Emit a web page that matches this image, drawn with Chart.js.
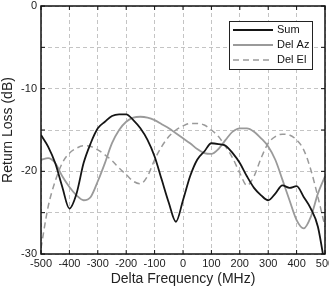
<!DOCTYPE html>
<html>
<head>
<meta charset="UTF-8">
<title>Return Loss</title>
<script src="https://cdn.jsdelivr.net/npm/chart.js"></script>
<style>
  html, body { margin: 0; padding: 0; background: #fff; overflow: hidden; }
  #wrap { width: 329px; height: 288px; }
</style>
</head>
<body>
<div id="wrap"><canvas id="rl" width="329" height="288"></canvas></div>
<script>
const freq = [-500, -475, -450, -425, -400, -375, -350, -325, -300, -275, -250, -225, -200, -175, -150, -125, -100, -75, -50, -25,
  0, 25, 50, 75, 100, 125, 150, 175, 200, 225, 250, 275, 300, 325, 350, 375, 400, 425, 450, 475, 500];

const sumRL = [-15.6, -17.0, -19.0, -21.9, -24.5, -22.7, -19.0, -16.6, -14.8, -14.0, -13.3, -13.1, -13.1, -13.8, -14.8, -16.2, -18.2, -21.0, -23.8, -26.1,
  -23.5, -20.6, -18.6, -17.6, -16.6, -16.7, -16.9, -17.8, -19.0, -20.6, -22.0, -22.9, -23.5, -22.7, -21.7, -22.0, -21.8, -23.1, -24.5, -26.7, -31.5];

const delAz = [-18.6, -18.4, -19.0, -20.6, -21.9, -22.9, -23.5, -23.1, -21.2, -19.0, -16.6, -15.0, -14.0, -13.5, -13.4, -13.5, -13.8, -14.3, -14.8, -15.4,
  -16.0, -16.6, -17.3, -17.8, -17.9, -17.3, -16.2, -15.2, -14.8, -14.8, -15.2, -16.0, -17.0, -18.6, -21.0, -23.5, -25.9, -26.9, -25.5, -22.7, -20.6];

const delEl = [-29.3, -24.3, -21.2, -19.0, -17.8, -17.2, -16.9, -17.0, -17.4, -18.0, -18.7, -19.6, -20.4, -21.2, -21.5, -20.6, -18.6, -17.0, -15.8, -15.0,
  -14.5, -14.2, -14.2, -14.4, -15.0, -15.8, -17.0, -18.4, -20.2, -21.7, -20.6, -18.4, -16.6, -15.8, -15.5, -15.6, -16.2, -17.4, -19.8, -23.1, -26.7];

const xTicks = [-500, -400, -300, -200, -100, 0, 100, 200, 300, 400, 500];
const yLabelTicks = [0, -10, -20, -30];

function pts(ys) {
  return freq.map((f, i) => ({ x: f, y: ys[i] }));
}

// box around plot, inward tick marks, legend inside the plot
const frame = {
  id: 'frame',
  afterDatasetsDraw(chart) {
    const { ctx, chartArea: a, scales } = chart;
    ctx.save();
    ctx.strokeStyle = '#111';
    ctx.lineWidth = 1.5;
    ctx.strokeRect(a.left, a.top, a.right - a.left, a.bottom - a.top);
    ctx.lineWidth = 1;
    ctx.beginPath();
    xTicks.forEach(v => {
      const px = scales.x.getPixelForValue(v);
      ctx.moveTo(px, a.bottom); ctx.lineTo(px, a.bottom - 4);
      ctx.moveTo(px, a.top); ctx.lineTo(px, a.top + 4);
    });
    [0, -5, -10, -15, -20, -25, -30].forEach(v => {
      const py = scales.y.getPixelForValue(v);
      ctx.moveTo(a.left, py); ctx.lineTo(a.left + 4, py);
      ctx.moveTo(a.right, py); ctx.lineTo(a.right - 4, py);
    });
    ctx.stroke();

    // legend
    const lx = 229, ly = 21, lw = 83, lh = 48;
    ctx.fillStyle = '#fff';
    ctx.fillRect(lx, ly, lw, lh);
    ctx.strokeStyle = '#222';
    ctx.lineWidth = 1;
    ctx.strokeRect(lx + 0.5, ly + 0.5, lw, lh);
    ctx.font = '11px "Liberation Sans", Arial, sans-serif';
    ctx.textBaseline = 'middle';
    chart.data.datasets.forEach((ds, i) => {
      const y = ly + 9 + i * 15;
      ctx.strokeStyle = ds.borderColor;
      ctx.lineWidth = ds.borderWidth;
      ctx.setLineDash(ds.borderDash || []);
      ctx.beginPath();
      ctx.moveTo(lx + 4, y); ctx.lineTo(lx + 44, y);
      ctx.stroke();
      ctx.setLineDash([]);
      ctx.fillStyle = '#111';
      ctx.fillText(ds.label, lx + 48, y);
    });
    ctx.restore();
  }
};

new Chart(document.getElementById('rl'), {
  type: 'line',
  data: {
    datasets: [
      { label: 'Sum', data: pts(sumRL), borderColor: '#151515', borderWidth: 1.8 },
      { label: 'Del Az', data: pts(delAz), borderColor: '#9a9a9a', borderWidth: 1.8 },
      { label: 'Del El', data: pts(delEl), borderColor: '#9a9a9a', borderWidth: 1.5, borderDash: [6, 4] }
    ]
  },
  options: {
    responsive: false,
    animation: false,
    layout: { padding: { top: 6, right: 4, left: 0, bottom: 0 } },
    elements: { point: { radius: 0 }, line: { cubicInterpolationMode: 'monotone' } },
    plugins: { legend: { display: false }, tooltip: { enabled: false } },
    scales: {
      x: {
        type: 'linear',
        min: -500, max: 500,
        afterBuildTicks(scale) { scale.ticks = xTicks.map(v => ({ value: v })); },
        afterFit(scale) { scale.paddingRight = 0; scale.paddingLeft = 0; scale.height = 34; },
        grid: { color: '#c4c4c4', lineWidth: 1, drawTicks: false },
        border: { display: false, dash: [4, 3] },
        ticks: { color: '#222', font: { family: '"Liberation Sans", Arial', size: 11 }, padding: 3, maxRotation: 0, autoSkip: false },
        title: { display: true, text: 'Delta Frequency (MHz)', color: '#222', font: { family: '"Liberation Sans", Arial', size: 14 }, padding: { top: 0, bottom: 0 } }
      },
      y: {
        min: -30, max: 0,
        ticks: {
          stepSize: 5,
          color: '#222',
          font: { family: '"Liberation Sans", Arial', size: 11 },
          padding: 4,
          callback: v => yLabelTicks.includes(v) ? String(v) : ''
        },
        afterFit(scale) { scale.paddingTop = 0; scale.paddingBottom = 0; scale.width = 41; },
        grid: { color: '#c4c4c4', lineWidth: 1, drawTicks: false },
        border: { display: false, dash: [4, 3] },
        title: { display: true, text: 'Return Loss (dB)', color: '#222', font: { family: '"Liberation Sans", Arial', size: 14 }, padding: { top: 0, bottom: 2 } }
      }
    }
  },
  plugins: [frame]
});
</script>
</body>
</html>
